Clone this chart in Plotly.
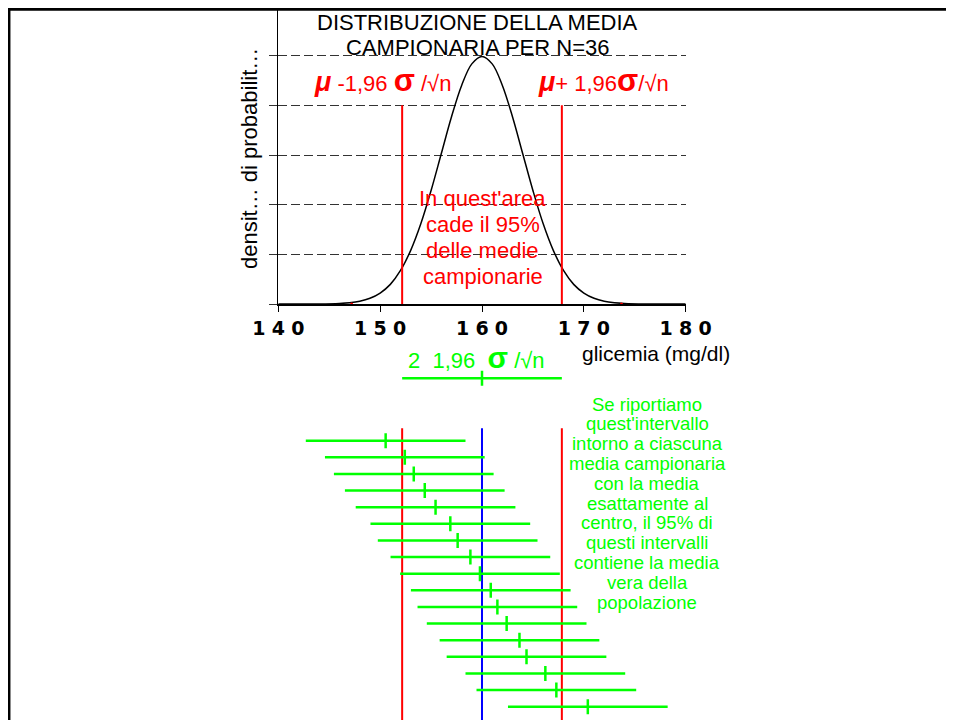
import plotly.graph_objects as go

W, H = 954, 720
OFF = 8  # page body margin offset (figure starts 8px into the page)

# ---- data ----
mu = 160.0          # population mean (mg/dl)
sigma = 24.0        # population sd
n = 36              # sample size
z95 = 1.96
se = sigma / n ** 0.5
lower = mu - z95 * se
upper = mu + z95 * se

x_ticks = [140, 150, 160, 170, 180]
y_ticks = [0, 0.02, 0.04, 0.06, 0.08, 0.10]

# density curve
curve_x = [140, 142, 144, 146, 147, 148, 149, 150, 151, 152, 153, 154, 155, 156, 157, 158, 159, 160,
           161, 162, 163, 164, 165, 166, 167, 168, 169, 170, 171, 172, 173, 174, 176, 178, 180]
curve_y = [0.0000, 0.0000, 0.00003, 0.00022, 0.0005, 0.0011, 0.0023, 0.0044, 0.0079, 0.0135, 0.0216,
           0.0324, 0.0457, 0.0605, 0.0753, 0.0880, 0.0967, 0.0997,
           0.0967, 0.0880, 0.0753, 0.0605, 0.0457, 0.0324, 0.0216, 0.0135, 0.0079, 0.0044, 0.0023,
           0.0011, 0.0005, 0.00022, 0.00003, 0.0000, 0.0000]

red_marks_x = [147.2, 173.7]

# sample means of the 17 drawn intervals (top to bottom)
sample_means = [150.54, 152.42, 153.30, 154.38, 155.44, 156.89, 157.61, 158.86, 159.80,
                160.86, 161.51, 162.42, 163.68, 164.37, 166.22, 167.30, 170.39]
rows = list(range(1, len(sample_means) + 1))
ref_row = -2.75

title_lines = ["DISTRIBUZIONE DELLA MEDIA", "CAMPIONARIA PER N=36"]
area_lines = ["In quest'area", "cade il 95%", "delle medie", "campionarie"]
green_lines = ["Se riportiamo", "quest'intervallo", "intorno a ciascuna", "media campionaria",
               "con la media", "esattamente al", "centro, il 95% di", "questi intervalli",
               "contiene la media", "vera della", "popolazione"]

RED = "#ff0000"
GREEN = "#00ff00"
BLUE = "#0000ff"
FONT = "Liberation Sans, Arial, sans-serif"


def px_x(p):
    return (p - OFF) / W


def px_y(p):
    return 1 - (p - OFF) / H


# top panel geometry: 0 at y=304px, 0.02 per 49.67px
Y_BASE, PX_PER_UNIT = 304.0, 298.0 / 0.12
y_top_val = (Y_BASE - OFF) / PX_PER_UNIT

fig = go.Figure()

# top panel: density curve
fig.add_trace(go.Scatter(x=curve_x, y=curve_y, mode="lines", line=dict(color="black", width=1.5, shape="spline"),
                         xaxis="x", yaxis="y", hoverinfo="skip"))
# red limits in top panel
fig.add_trace(go.Scatter(x=[lower, lower, None, upper, upper], y=[0, 0.08, None, 0, 0.08], mode="lines",
                         line=dict(color=RED, width=2), xaxis="x", yaxis="y", hoverinfo="skip"))
fig.add_trace(go.Scatter(x=red_marks_x, y=[0, 0], mode="markers", marker=dict(color=RED, size=3),
                         xaxis="x", yaxis="y", hoverinfo="skip"))

# bottom panel: row index r sits at 440.7 + (r-1)*16.625 px
ROW0, ROWH = 440.7, 16.625


def row_at(p):
    return (p - ROW0) / ROWH + 1


y2_top = row_at(304)
y2_bot = row_at(H + OFF)
line_top = 0.25
fig.add_trace(go.Scatter(x=[lower, lower, None, upper, upper], y=[line_top, y2_bot, None, line_top, y2_bot],
                         mode="lines", line=dict(color=RED, width=2), xaxis="x", yaxis="y2", hoverinfo="skip"))
fig.add_trace(go.Scatter(x=[mu, mu], y=[line_top, y2_bot], mode="lines", line=dict(color=BLUE, width=2),
                         xaxis="x", yaxis="y2", hoverinfo="skip"))

# intervals
hx, hy, tx, ty = [], [], [], []
all_means = [mu] + sample_means
all_rows = [ref_row] + rows
for m, r in zip(all_means, all_rows):
    hx += [m - z95 * se, m + z95 * se, None]
    hy += [r, r, None]
    tx += [m, m, None]
    ty += [r - 0.45, r + 0.45, None]
fig.add_trace(go.Scatter(x=hx, y=hy, mode="lines", line=dict(color=GREEN, width=2.5),
                         xaxis="x", yaxis="y2", hoverinfo="skip"))
fig.add_trace(go.Scatter(x=tx, y=ty, mode="lines", line=dict(color=GREEN, width=2.5),
                         xaxis="x", yaxis="y2", hoverinfo="skip"))

annotations = []


def ann(text, xp, yp, size, color="black", xanchor="center", angle=0):
    annotations.append(dict(text=text, x=px_x(xp), y=px_y(yp), xref="paper", yref="paper",
                            xanchor=xanchor, yanchor="middle", showarrow=False, textangle=angle,
                            font=dict(family=FONT, size=size, color=color)))


ann(title_lines[0], 477.5, 22, 22)
ann(title_lines[1], 477, 47.5, 22)
ann("<span style='font-size:27px'><b><i>μ</i></b></span> -1,96 <span style='font-size:31px'><b>σ</b></span> /√n",
    382.5, 81, 22, RED)
ann("<span style='font-size:27px'><b><i>μ</i></b></span>+ 1,96<span style='font-size:31px'><b>σ</b></span>/√n",
    603, 81, 22, RED)
for k, line in enumerate(area_lines):
    ann(line, 482.5, 199 + k * 25.8, 22, RED)
ann("glicemia (mg/dl)", 731.7, 353, 21, "black", xanchor="right")
ann("2\u00a0\u00a01,96\u00a0 <span style='font-size:30px'><b>σ</b></span> /√n", 476.7, 357, 22, GREEN)
ann("densit… di probabilit…", 249, 159, 22, "black", angle=-90)
for k, line in enumerate(green_lines):
    ann(line, 647, 404 + k * 19.8, 18.5, GREEN)

shapes = [
    dict(type="line", xref="paper", yref="paper", x0=px_x(7), x1=1, y0=px_y(9.3), y1=px_y(9.3),
         line=dict(color="black", width=3)),
    dict(type="line", xref="paper", yref="paper", x0=px_x(9.2), x1=px_x(9.2), y0=px_y(8), y1=0,
         line=dict(color="black", width=2.5)),
]

fig.update_layout(
    width=W, height=H,
    margin=dict(l=0, r=0, t=0, b=0, pad=0, autoexpand=False),
    paper_bgcolor="white", plot_bgcolor="white",
    showlegend=False,
    annotations=annotations,
    shapes=shapes,
    xaxis=dict(domain=[px_x(278.3), px_x(685.7)], range=[140, 180], anchor="y", automargin=False,
               tickvals=x_ticks, ticktext=["\u2004".join(str(v)) for v in x_ticks],
               ticks="outside", ticklen=6, tickcolor="black", tickwidth=1,
               showline=True, linecolor="black", linewidth=1.5, showgrid=False, zeroline=False,
               tickfont=dict(family="DejaVu Sans", size=19, color="black", weight="bold")),
    yaxis=dict(domain=[px_y(Y_BASE), 1], range=[0, y_top_val], anchor="x", automargin=False,
               tickvals=y_ticks, showticklabels=False, ticks="outside", ticklen=8, tickcolor="#333",
               showline=True, linecolor="black", linewidth=1,
               showgrid=True, gridcolor="#333", gridwidth=1, griddash="9px,4px", zeroline=False),
    yaxis2=dict(domain=[0, px_y(Y_BASE)], range=[y2_bot, y2_top], visible=False, anchor="x", automargin=False),
)

fig.write_html("out.html")
